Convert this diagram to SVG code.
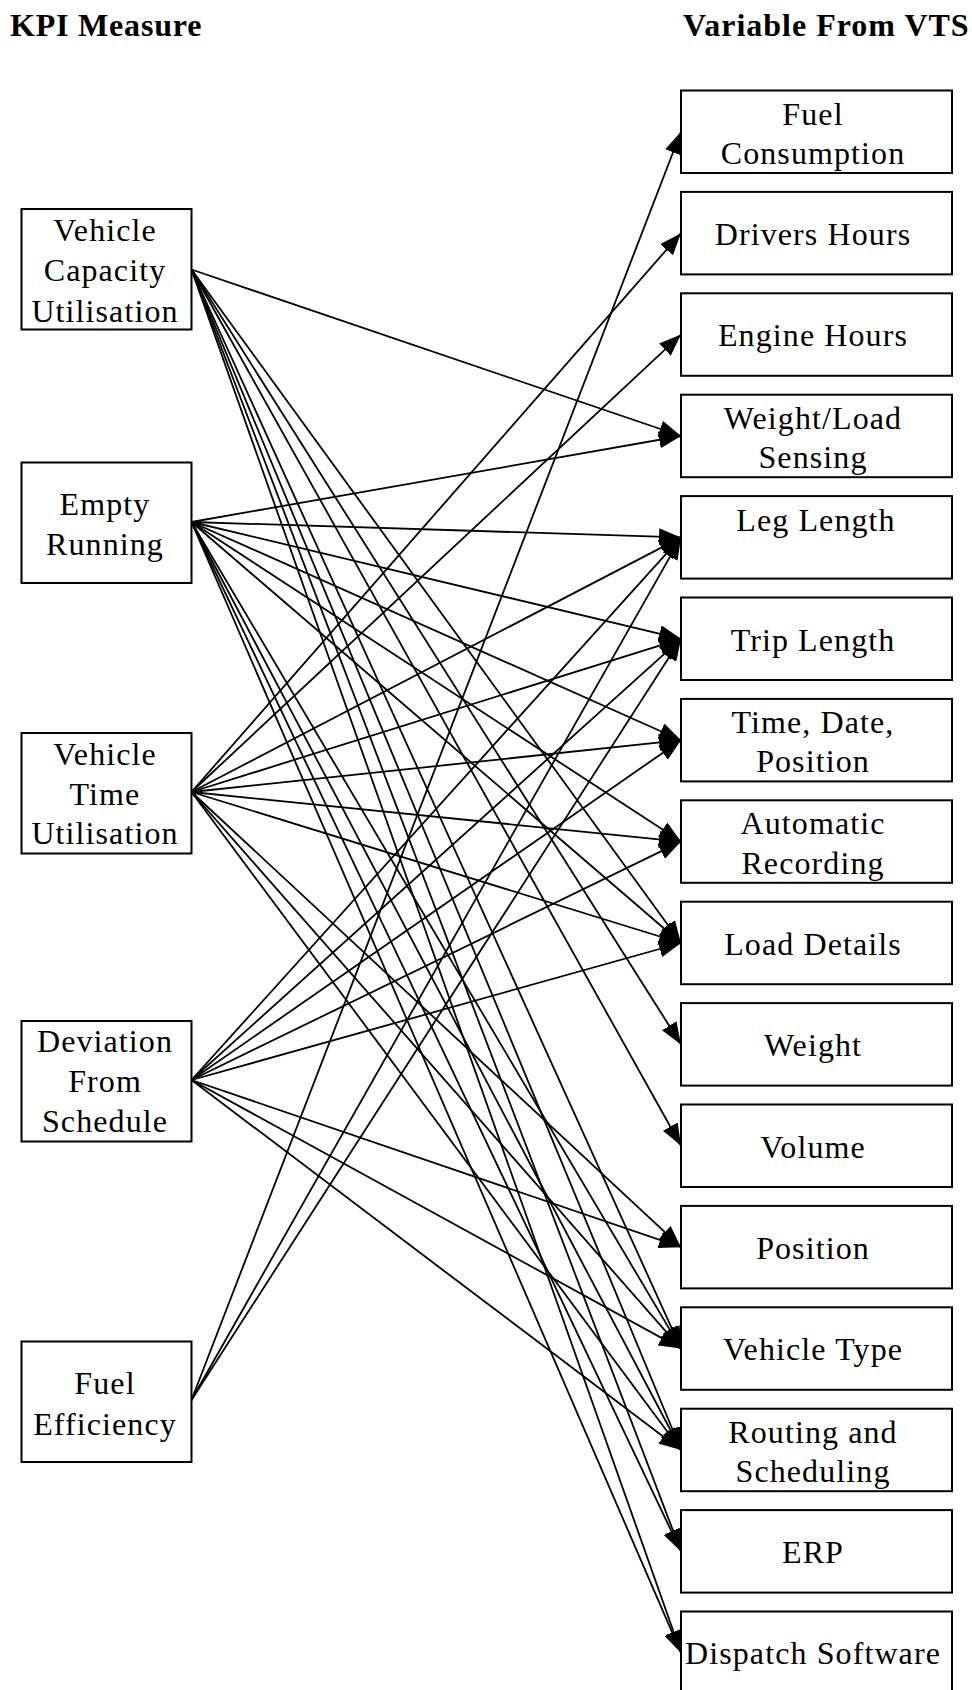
<svg xmlns="http://www.w3.org/2000/svg" width="972" height="1690" viewBox="0 0 972 1690">
  <style>
    .box { fill: #fff; stroke: #000; stroke-width: 2; }
    .lbl { font-family: "Liberation Serif", "Times New Roman", serif; font-size: 32px; letter-spacing: 1.1px; fill: #000; text-anchor: middle; }
    .ttl { font-family: "Liberation Serif", "Times New Roman", serif; font-size: 32px; font-weight: bold; fill: #000; }
    .cn line { stroke: #000; stroke-width: 1.8; fill: none; marker-end: url(#arr); }
  </style>
  <defs>
    <marker id="arr" viewBox="0 0 22 17" refX="22" refY="8.5" markerWidth="22" markerHeight="17" markerUnits="userSpaceOnUse" orient="auto">
      <path d="M0,0 L22,8.5 L0,17 z" fill="#000"/>
    </marker>
  </defs>
  <rect width="972" height="1690" fill="#fff"/>

  <text class="ttl" x="10" y="36" letter-spacing="0.8">KPI Measure</text>
  <text class="ttl" x="683" y="36" letter-spacing="1">Variable From VTS</text>

  <!-- connectors: KPI (right edge x=191.5) to VTS variable (left edge x=681) -->
  <g id="connectors" class="cn">
    <!-- Vehicle Capacity Utilisation y=269.5 -->
    <line x1="191.5" y1="269.5" x2="681" y2="436"/>
    <line x1="191.5" y1="269.5" x2="681" y2="943"/>
    <line x1="191.5" y1="269.5" x2="681" y2="1044.4"/>
    <line x1="191.5" y1="269.5" x2="681" y2="1145.8"/>
    <line x1="191.5" y1="269.5" x2="681" y2="1348.6"/>
    <line x1="191.5" y1="269.5" x2="681" y2="1450"/>
    <line x1="191.5" y1="269.5" x2="681" y2="1551.4"/>
    <line x1="191.5" y1="269.5" x2="681" y2="1652.8"/>
    <!-- Empty Running y=522 -->
    <line x1="191.5" y1="522" x2="681" y2="436"/>
    <line x1="191.5" y1="522" x2="681" y2="537.4"/>
    <line x1="191.5" y1="522" x2="681" y2="638.8"/>
    <line x1="191.5" y1="522" x2="681" y2="740.2"/>
    <line x1="191.5" y1="522" x2="681" y2="841.6"/>
    <line x1="191.5" y1="522" x2="681" y2="943"/>
    <line x1="191.5" y1="522" x2="681" y2="1348.6"/>
    <line x1="191.5" y1="522" x2="681" y2="1450"/>
    <line x1="191.5" y1="522" x2="681" y2="1551.4"/>
    <line x1="191.5" y1="522" x2="681" y2="1652.8"/>
    <!-- Vehicle Time Utilisation y=792 -->
    <line x1="191.5" y1="792" x2="681" y2="233.2"/>
    <line x1="191.5" y1="792" x2="681" y2="334.6"/>
    <line x1="191.5" y1="792" x2="681" y2="537.4"/>
    <line x1="191.5" y1="792" x2="681" y2="638.8"/>
    <line x1="191.5" y1="792" x2="681" y2="740.2"/>
    <line x1="191.5" y1="792" x2="681" y2="841.6"/>
    <line x1="191.5" y1="792" x2="681" y2="943"/>
    <line x1="191.5" y1="792" x2="681" y2="1247.2"/>
    <line x1="191.5" y1="792" x2="681" y2="1348.6"/>
    <line x1="191.5" y1="792" x2="681" y2="1450"/>
    <!-- Deviation From Schedule y=1080 -->
    <line x1="191.5" y1="1080" x2="681" y2="537.4"/>
    <line x1="191.5" y1="1080" x2="681" y2="638.8"/>
    <line x1="191.5" y1="1080" x2="681" y2="740.2"/>
    <line x1="191.5" y1="1080" x2="681" y2="841.6"/>
    <line x1="191.5" y1="1080" x2="681" y2="943"/>
    <line x1="191.5" y1="1080" x2="681" y2="1247.2"/>
    <line x1="191.5" y1="1080" x2="681" y2="1348.6"/>
    <line x1="191.5" y1="1080" x2="681" y2="1450"/>
    <!-- Fuel Efficiency y=1400 -->
    <line x1="191.5" y1="1400" x2="681" y2="131.8"/>
    <line x1="191.5" y1="1400" x2="681" y2="537.4"/>
    <line x1="191.5" y1="1400" x2="681" y2="638.8"/>
  </g>

  <!-- KPI measures -->
  <g id="kpi-vcu">
    <rect class="box" x="21.5" y="209" width="170" height="120.5"/>
    <text class="lbl" x="105"><tspan x="105" y="240.5">Vehicle</tspan><tspan x="105" y="281">Capacity</tspan><tspan x="105" y="321.5">Utilisation</tspan></text>
  </g>
  <g id="kpi-er">
    <rect class="box" x="21.5" y="462.5" width="170" height="120.5"/>
    <text class="lbl" x="105"><tspan x="105" y="515">Empty</tspan><tspan x="105" y="555">Running</tspan></text>
  </g>
  <g id="kpi-vtu">
    <rect class="box" x="21.5" y="733" width="170" height="120.5"/>
    <text class="lbl" x="105"><tspan x="105" y="765">Vehicle</tspan><tspan x="105" y="804.5">Time</tspan><tspan x="105" y="844">Utilisation</tspan></text>
  </g>
  <g id="kpi-dfs">
    <rect class="box" x="21.5" y="1021" width="170" height="120.5"/>
    <text class="lbl" x="105"><tspan x="105" y="1052">Deviation</tspan><tspan x="105" y="1092">From</tspan><tspan x="105" y="1131.5">Schedule</tspan></text>
  </g>
  <g id="kpi-fe">
    <rect class="box" x="21.5" y="1341.5" width="170" height="120.5"/>
    <text class="lbl" x="105"><tspan x="105" y="1393.5">Fuel</tspan><tspan x="105" y="1435">Efficiency</tspan></text>
  </g>

  <!-- VTS variables -->
  <g id="var-fuel-consumption">
    <rect class="box" x="681" y="90.5" width="271" height="82.5"/>
    <text class="lbl"><tspan x="813" y="124.5">Fuel</tspan><tspan x="813" y="164">Consumption</tspan></text>
  </g>
  <g id="var-drivers-hours">
    <rect class="box" x="681" y="191.9" width="271" height="82.5"/>
    <text class="lbl" x="813" y="245">Drivers Hours</text>
  </g>
  <g id="var-engine-hours">
    <rect class="box" x="681" y="293.3" width="271" height="82.5"/>
    <text class="lbl" x="813" y="346.3">Engine Hours</text>
  </g>
  <g id="var-weight-load-sensing">
    <rect class="box" x="681" y="394.7" width="271" height="82.5"/>
    <text class="lbl"><tspan x="813" y="428.7">Weight/Load</tspan><tspan x="813" y="468.2">Sensing</tspan></text>
  </g>
  <g id="var-leg-length">
    <rect class="box" x="681" y="496.1" width="271" height="82.5"/>
    <text class="lbl" x="816" y="530.6">Leg Length</text>
  </g>
  <g id="var-trip-length">
    <rect class="box" x="681" y="597.5" width="271" height="82.5"/>
    <text class="lbl" x="813" y="650.5">Trip Length</text>
  </g>
  <g id="var-time-date-position">
    <rect class="box" x="681" y="698.9" width="271" height="82.5"/>
    <text class="lbl"><tspan x="813" y="732.9">Time, Date,</tspan><tspan x="813" y="772.4">Position</tspan></text>
  </g>
  <g id="var-automatic-recording">
    <rect class="box" x="681" y="800.3" width="271" height="82.5"/>
    <text class="lbl"><tspan x="813" y="834.3">Automatic</tspan><tspan x="813" y="873.8">Recording</tspan></text>
  </g>
  <g id="var-load-details">
    <rect class="box" x="681" y="901.7" width="271" height="82.5"/>
    <text class="lbl" x="813" y="954.7">Load Details</text>
  </g>
  <g id="var-weight">
    <rect class="box" x="681" y="1003.1" width="271" height="82.5"/>
    <text class="lbl" x="813" y="1056.1">Weight</text>
  </g>
  <g id="var-volume">
    <rect class="box" x="681" y="1104.5" width="271" height="82.5"/>
    <text class="lbl" x="813" y="1157.5">Volume</text>
  </g>
  <g id="var-position">
    <rect class="box" x="681" y="1205.9" width="271" height="82.5"/>
    <text class="lbl" x="813" y="1258.9">Position</text>
  </g>
  <g id="var-vehicle-type">
    <rect class="box" x="681" y="1307.3" width="271" height="82.5"/>
    <text class="lbl" x="813" y="1360.3">Vehicle Type</text>
  </g>
  <g id="var-routing-scheduling">
    <rect class="box" x="681" y="1408.7" width="271" height="82.5"/>
    <text class="lbl"><tspan x="813" y="1442.7">Routing and</tspan><tspan x="813" y="1482.2">Scheduling</tspan></text>
  </g>
  <g id="var-erp">
    <rect class="box" x="681" y="1510.1" width="271" height="82.5"/>
    <text class="lbl" x="813" y="1563.1">ERP</text>
  </g>
  <g id="var-dispatch-software">
    <rect class="box" x="681" y="1611.5" width="271" height="82.5"/>
    <text class="lbl" x="813" y="1663.5">Dispatch Software</text>
  </g>
</svg>
